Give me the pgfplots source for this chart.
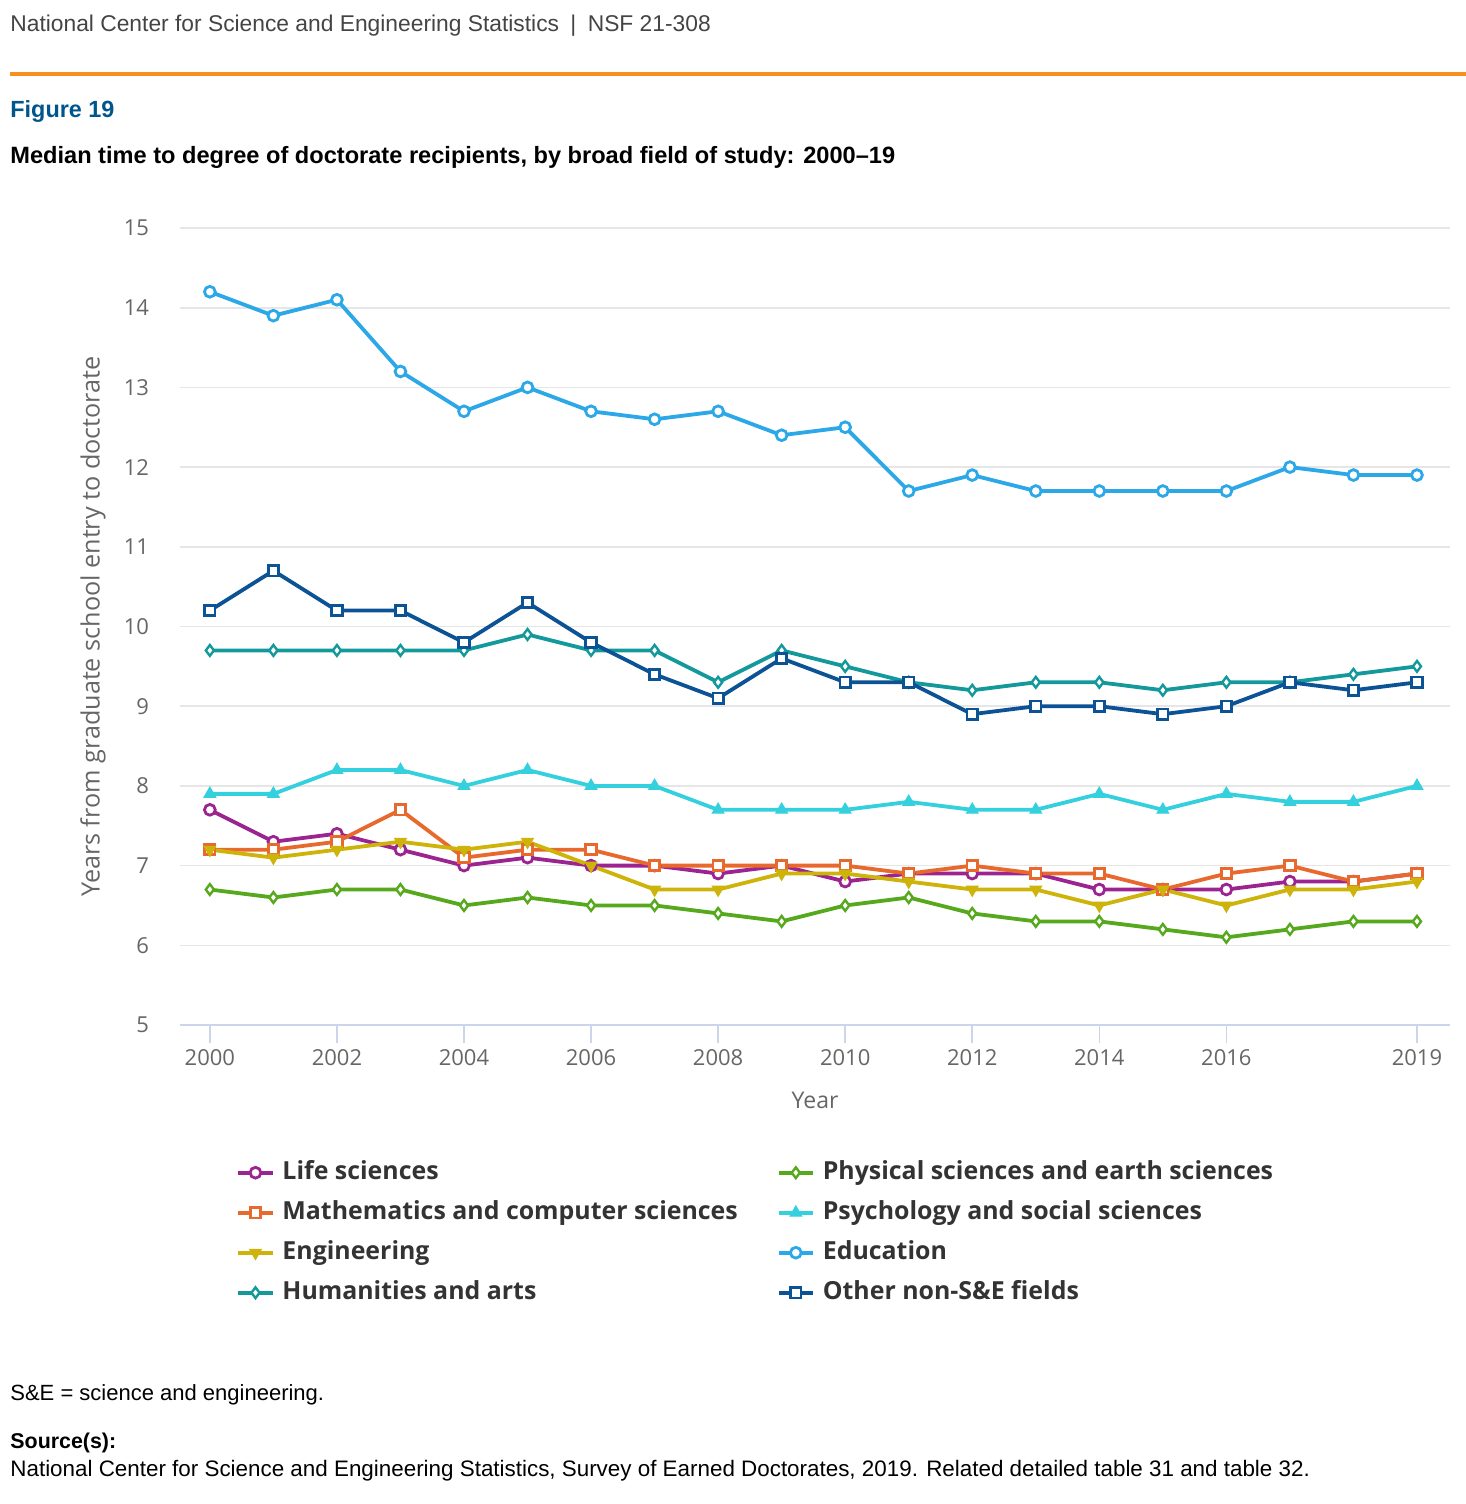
\documentclass[border=0pt]{standalone}
\usepackage{pgfplots}
\pgfplotsset{compat=1.18}
\usepackage{fontspec}
\setmainfont{Liberation Sans}
\newfontfamily\opensans{Open Sans}
\definecolor{hdr}{HTML}{444444}
\definecolor{orangeline}{HTML}{F7901E}
\definecolor{figblue}{HTML}{00558C}
\definecolor{tickgray}{HTML}{666666}
\definecolor{gridgray}{HTML}{E6E6E6}
\definecolor{axisline}{HTML}{CCD6EB}
\definecolor{legtext}{HTML}{333333}
\definecolor{life}{HTML}{9C2490}
\definecolor{math}{HTML}{E8692D}
\definecolor{eng}{HTML}{CDB30A}
\definecolor{hum}{HTML}{13989B}
\definecolor{phys}{HTML}{56A81C}
\definecolor{psych}{HTML}{34D0DD}
\definecolor{edu}{HTML}{2CA8E8}
\definecolor{other}{HTML}{0B5394}
\begin{document}
\begin{tikzpicture}
\path[use as bounding box] (0pt,0pt) rectangle (733pt,-752pt);
\node[anchor=base west, inner sep=0, font=\fontsize{11.4}{13}\selectfont, text=hdr] at (5pt,-16pt) {National Center for Science and Engineering Statistics\enspace|\enspace NSF 21-308};
\draw[orangeline, line width=2pt] (5pt,-37pt) -- (733pt,-37pt);
\node[anchor=base west, inner sep=0, font=\bfseries\fontsize{11.7}{13}\selectfont, text=figblue] at (5pt,-59pt) {Figure 19};
\node[anchor=base west, inner sep=0, font=\bfseries\fontsize{11.8}{13}\selectfont, text=black] at (5pt,-81.5pt) {Median time to degree of doctorate recipients, by broad field of study: 2000--19};
\node[anchor=base west, inner sep=0, font=\fontsize{11}{12}\selectfont, text=black] at (5pt,-700pt) {S\&E = science and engineering.};
\node[anchor=base west, inner sep=0, font=\bfseries\fontsize{10.7}{12}\selectfont, text=black] at (5pt,-724pt) {Source(s):};
\node[anchor=base west, inner sep=0, font=\fontsize{11.2}{12}\selectfont, text=black] at (5pt,-738pt) {National Center for Science and Engineering Statistics, Survey of Earned Doctorates, 2019. Related detailed table 31 and table 32.};
\begin{axis}[
  at={(90pt,-512.5pt)}, anchor=south west,
  scale only axis, width=635pt, height=398.5pt,
  xmin=1999.53, xmax=2019.52, ymin=5, ymax=15,
  axis x line*=bottom, axis y line*=left,
  y axis line style={draw=none},
  x axis line style={draw=axisline, line width=1pt},
  xtick={2000,2002,2004,2006,2008,2010,2012,2014,2016,2019},
  xticklabels={2000,2002,2004,2006,2008,2010,2012,2014,2016,2019},
  ytick={5,6,...,15},
  yticklabels={5,6,7,8,9,10,11,12,13,14,15},
  ymajorgrids, grid style={gridgray, line width=0.8pt},
  ytick style={draw=none},
  xtick style={draw=axisline, line width=0.8pt},
  xtick align=outside,
  major tick length=9pt,
  tick label style={font=\opensans\fontsize{11}{13}\selectfont, text=tickgray},
  yticklabel style={xshift=-12pt},
  xticklabel style={yshift=0.5pt},
  xlabel={Year}, ylabel={Years from graduate school entry to doctorate},
  every axis x label/.style={at={(axis description cs:0.5,0)}, anchor=center, yshift=-37.5pt, font=\opensans\fontsize{11.5}{13}\selectfont, text=tickgray},
  every axis y label/.style={at={(axis description cs:-0.0685,0.5)}, anchor=center, rotate=90, font=\opensans\fontsize{12.6}{14}\selectfont, text=tickgray},
  clip=false,
  every axis plot/.append style={line width=1.9pt},
  legend columns=2,
  legend style={at={(axis description cs:0.0445,-0.169)}, anchor=north west, draw=none, fill=none,
    inner sep=0pt, outer sep=0pt,
    font=\opensans\bfseries\fontsize{12.45}{14}\selectfont, text=legtext,
    nodes={inner sep=0pt, text height=10pt, text depth=3pt},
    row sep=7pt, column sep=4pt,
    /tikz/every even column/.append style={column sep=19.5pt}},
  legend cell align=left,
]
\addplot[life, mark=*, mark size=2.7pt, mark options={fill=white, line width=1.4pt}] coordinates {
(2000,7.7)(2001,7.3)(2002,7.4)(2003,7.2)(2004,7.0)(2005,7.1)(2006,7.0)(2007,7.0)(2008,6.9)(2009,7.0)
(2010,6.8)(2011,6.9)(2012,6.9)(2013,6.9)(2014,6.7)(2015,6.7)(2016,6.7)(2017,6.8)(2018,6.8)(2019,6.9)};
\addlegendentry{Life sciences}
\addplot[phys, mark=diamond*, mark size=2.7pt, mark options={fill=white, line width=1.2pt}] coordinates {
(2000,6.7)(2001,6.6)(2002,6.7)(2003,6.7)(2004,6.5)(2005,6.6)(2006,6.5)(2007,6.5)(2008,6.4)(2009,6.3)
(2010,6.5)(2011,6.6)(2012,6.4)(2013,6.3)(2014,6.3)(2015,6.2)(2016,6.1)(2017,6.2)(2018,6.3)(2019,6.3)};
\addlegendentry{Physical sciences and earth sciences}
\addplot[math, mark=square*, mark size=2.6pt, mark options={fill=white, line width=1.4pt}] coordinates {
(2000,7.2)(2001,7.2)(2002,7.3)(2003,7.7)(2004,7.1)(2005,7.2)(2006,7.2)(2007,7.0)(2008,7.0)(2009,7.0)
(2010,7.0)(2011,6.9)(2012,7.0)(2013,6.9)(2014,6.9)(2015,6.7)(2016,6.9)(2017,7.0)(2018,6.8)(2019,6.9)};
\addlegendentry{Mathematics and computer sciences}
\addplot[psych, mark=triangle*, mark size=3.4pt, mark options={fill=psych, line width=0.5pt}] coordinates {
(2000,7.9)(2001,7.9)(2002,8.2)(2003,8.2)(2004,8.0)(2005,8.2)(2006,8.0)(2007,8.0)(2008,7.7)(2009,7.7)
(2010,7.7)(2011,7.8)(2012,7.7)(2013,7.7)(2014,7.9)(2015,7.7)(2016,7.9)(2017,7.8)(2018,7.8)(2019,8.0)};
\addlegendentry{Psychology and social sciences}
\addplot[eng, mark=triangle*, mark size=3.4pt, mark options={rotate=180, fill=eng, line width=0.5pt}] coordinates {
(2000,7.2)(2001,7.1)(2002,7.2)(2003,7.3)(2004,7.2)(2005,7.3)(2006,7.0)(2007,6.7)(2008,6.7)(2009,6.9)
(2010,6.9)(2011,6.8)(2012,6.7)(2013,6.7)(2014,6.5)(2015,6.7)(2016,6.5)(2017,6.7)(2018,6.7)(2019,6.8)};
\addlegendentry{Engineering}
\addplot[edu, mark=*, mark size=2.7pt, mark options={fill=white, line width=1.4pt}] coordinates {
(2000,14.2)(2001,13.9)(2002,14.1)(2003,13.2)(2004,12.7)(2005,13.0)(2006,12.7)(2007,12.6)(2008,12.7)(2009,12.4)
(2010,12.5)(2011,11.7)(2012,11.9)(2013,11.7)(2014,11.7)(2015,11.7)(2016,11.7)(2017,12.0)(2018,11.9)(2019,11.9)};
\addlegendentry{Education}
\addplot[hum, mark=diamond*, mark size=2.7pt, mark options={fill=white, line width=1.2pt}] coordinates {
(2000,9.7)(2001,9.7)(2002,9.7)(2003,9.7)(2004,9.7)(2005,9.9)(2006,9.7)(2007,9.7)(2008,9.3)(2009,9.7)
(2010,9.5)(2011,9.3)(2012,9.2)(2013,9.3)(2014,9.3)(2015,9.2)(2016,9.3)(2017,9.3)(2018,9.4)(2019,9.5)};
\addlegendentry{Humanities and arts}
\addplot[other, mark=square*, mark size=2.6pt, mark options={fill=white, line width=1.4pt}] coordinates {
(2000,10.2)(2001,10.7)(2002,10.2)(2003,10.2)(2004,9.8)(2005,10.3)(2006,9.8)(2007,9.4)(2008,9.1)(2009,9.6)
(2010,9.3)(2011,9.3)(2012,8.9)(2013,9.0)(2014,9.0)(2015,8.9)(2016,9.0)(2017,9.3)(2018,9.2)(2019,9.3)};
\addlegendentry{Other non-S\&E fields}
\end{axis}
\end{tikzpicture}
\end{document}
